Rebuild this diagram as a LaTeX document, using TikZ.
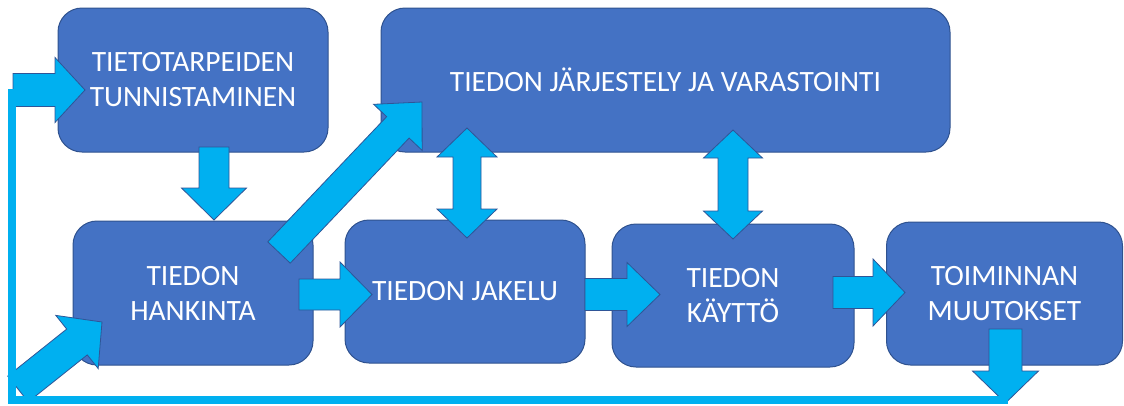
\documentclass[tikz,border=0pt]{standalone}
\usepackage{fontspec}
\setmainfont{Carlito}
\usetikzlibrary{calc}
\definecolor{boxblue}{HTML}{4472C4}
\definecolor{boxedge}{HTML}{2F528F}
\definecolor{arrblue}{HTML}{00B0F0}
\definecolor{arredge}{HTML}{2F5597}

% block arrow: from, to, shaft half width, head half width, head length
\newcommand{\blockarrow}[5]{%
  \coordinate (bah) at ($(#2)!#5!(#1)$);
  \draw[blockarr] ($(#1)!#3!90:(#2)$) -- ($(bah)!#3!90:(#2)$) -- ($(bah)!#4!90:(#2)$) -- (#2)
    -- ($(bah)!#4!-90:(#2)$) -- ($(bah)!#3!-90:(#2)$) -- ($(#1)!#3!-90:(#2)$) -- cycle;}
% double block arrow: tip A, tip B, shaft half width, head half width, head length
\newcommand{\dblarrow}[5]{%
  \coordinate (dha) at ($(#1)!#5!(#2)$);
  \coordinate (dhb) at ($(#2)!#5!(#1)$);
  \draw[blockarr] (#1) -- ($(dha)!#4!90:(#2)$) -- ($(dha)!#3!90:(#2)$) -- ($(dhb)!#3!90:(#2)$)
    -- ($(dhb)!#4!90:(#2)$) -- (#2) -- ($(dhb)!#4!-90:(#2)$) -- ($(dhb)!#3!-90:(#2)$)
    -- ($(dha)!#3!-90:(#2)$) -- ($(dha)!#4!-90:(#2)$) -- cycle;}

\begin{document}
\begin{tikzpicture}[x=1pt,y=-1pt,
  box/.style={draw=boxedge, line width=1pt, fill=boxblue, rounded corners=24pt,
    text=white, align=center, inner sep=0pt,
    font=\fontsize{29.5}{35}\selectfont},
  blockarr/.style={fill=arrblue, draw=arredge, line width=0.8pt, line join=miter},
  fbline/.style={draw=arrblue, line width=8pt}]
\useasboundingbox (0,0) rectangle (1124,405);

% boxes
\node[box, minimum width=270pt, minimum height=144pt] (need) at (193,80) {TIETOTARPEIDEN\\TUNNISTAMINEN};
\node[box, minimum width=569pt, minimum height=144pt] (org) at (665.5,80) {TIEDON JÄRJESTELY JA VARASTOINTI};
\node[box, minimum width=240pt, minimum height=144pt] (acq) at (193,293) {TIEDON\\HANKINTA};
\node[box, minimum width=240pt, minimum height=143pt] (dist) at (465,291.5) {TIEDON JAKELU};
\node[box, minimum width=242pt, minimum height=143pt] (use) at (733,295.5) {TIEDON\\KÄYTTÖ};
\node[box, minimum width=236pt, minimum height=143pt] (chg) at (1004.5,293.5) {TOIMINNAN\\MUUTOKSET};

% arrow end points
\coordinate (a1s) at (214,147);    \coordinate (a1e) at (214,220);
\coordinate (a2s) at (13,90);      \coordinate (a2e) at (85,90);
\coordinate (a3s) at (18,389);     \coordinate (a3e) at (102,322);
\coordinate (a4s) at (279,252.5);  \coordinate (a4e) at (422,102);
\coordinate (a5s) at (299,294.5);  \coordinate (a5e) at (372,294.5);
\coordinate (a6s) at (585,294.5);  \coordinate (a6e) at (660,294.5);
\coordinate (a7s) at (833,292.5);  \coordinate (a7e) at (905,292.5);
\coordinate (a8s) at (1005.5,329); \coordinate (a8e) at (1005.5,403);
\coordinate (d1s) at (467,128);    \coordinate (d1e) at (467,238);
\coordinate (d2s) at (733,130);    \coordinate (d2e) at (733,239);
\coordinate (fbtop) at (12,89);
\coordinate (fbcorner) at (12,399.5);
\coordinate (fbend) at (1008,399.5);

% block arrows
\blockarrow{a1s}{a1e}{15pt}{32.5pt}{32pt}
\blockarrow{a2s}{a2e}{16.5pt}{32.5pt}{30pt}
\blockarrow{a3s}{a3e}{16.5pt}{34pt}{32pt}
\blockarrow{a4s}{a4e}{15.5pt}{33.5pt}{35pt}
\blockarrow{a5s}{a5e}{15.5pt}{32.5pt}{32pt}
\blockarrow{a6s}{a6e}{16pt}{32pt}{33pt}
\blockarrow{a7s}{a7e}{16pt}{33.5pt}{32pt}
\blockarrow{a8s}{a8e}{16.5pt}{33pt}{32pt}
\dblarrow{d1s}{d1e}{14pt}{30pt}{29pt}
\dblarrow{d2s}{d2e}{15pt}{29.5pt}{28pt}

% feedback line
\draw[fbline] (fbtop) -- (fbcorner) -- (fbend);
\end{tikzpicture}
\end{document}
